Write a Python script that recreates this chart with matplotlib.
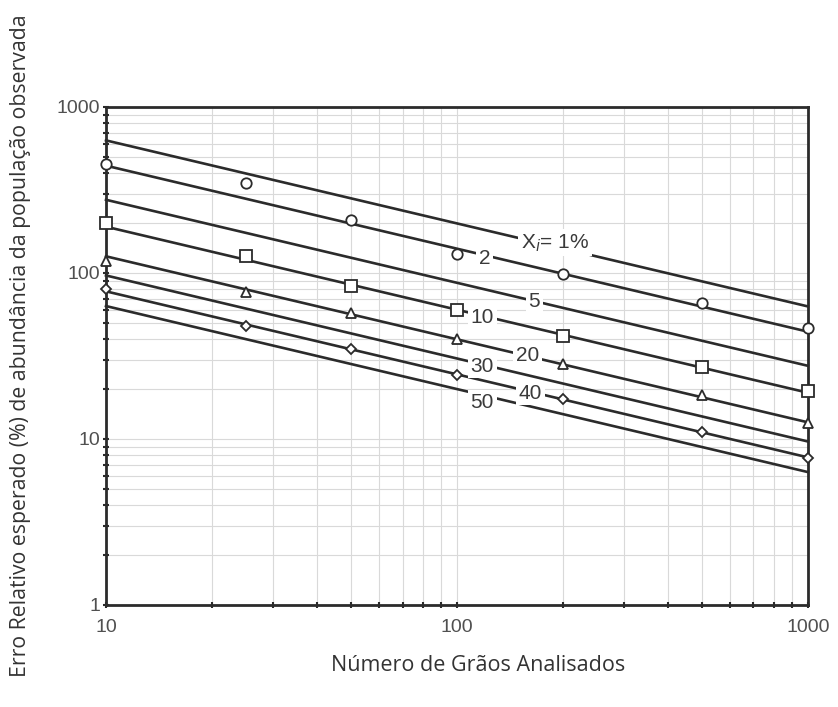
import matplotlib.pyplot as plt
from matplotlib.ticker import LogLocator, NullFormatter, FixedLocator, FixedFormatter

# lines for each abundance X_i (%): error at N=10 and N=1000 (straight in log-log)
xi_labels = ["X$_i$= 1%", "2", "5", "10", "20", "30", "40", "50"]
n_ends = [10, 1000]
err_at_10 = [629, 443, 276, 190, 126, 96.6, 77.5, 63.2]
err_at_1000 = [62.9, 44.3, 27.6, 19.0, 12.6, 9.66, 7.75, 6.32]

# label positions along the lines
label_x = [190, 120, 166, 118, 159, 118, 162, 118]
label_y = [152, 123, 67, 53.6, 32, 27.5, 18.9, 16.6]

# observed points
n_obs = [10, 25, 50, 100, 200, 500, 1000]
obs_2 = [454, 348, 209, 130, 98.6, 66, 46.6]
obs_10 = [200, 126, 83.6, 60, 41.7, 27.2, 19.5]
obs_20 = [118, 77, 57, 40, 28.2, 18.4, 12.5]
obs_40 = [80, 48, 35, 24.3, 17.4, 11, 7.7]

LINE = "#2b2b2b"

fig = plt.figure(figsize=(8.38, 7.07), dpi=100)
ax = fig.add_axes([0.1265, 0.1443, 0.8375, 0.7044])
ax.set_xscale("log")
ax.set_yscale("log")
ax.set_xlim(10, 1000)
ax.set_ylim(1, 1000)

ax.grid(True, which="both", color="#d9d9d9", linewidth=0.8)
ax.set_axisbelow(True)

for e0, e1 in zip(err_at_10, err_at_1000):
    ax.plot(n_ends, [e0, e1], color=LINE, linewidth=1.9, zorder=2, clip_on=False)

for lab, lx, ly in zip(xi_labels, label_x, label_y):
    ax.text(lx, ly, lab, fontsize=15, color="#3a3a3a", family="Liberation Sans",
            ha="center", va="center", zorder=3,
            bbox=dict(facecolor="white", edgecolor="none", pad=2))

mk = dict(color=LINE, markerfacecolor="white", linestyle="none", zorder=4,
          clip_on=False, markeredgewidth=1.3)
ax.plot(n_obs, obs_2, marker="o", markersize=7.5, **mk)
ax.plot(n_obs, obs_10, marker="s", markersize=9, **mk)
ax.plot(n_obs, obs_20, marker="^", markersize=7, **mk)
ax.plot(n_obs, obs_40, marker="D", markersize=5.5, **mk)

for s in ax.spines.values():
    s.set_linewidth(2)
    s.set_color("#2b2b2b")

ax.xaxis.set_major_locator(FixedLocator([10, 100, 1000]))
ax.xaxis.set_major_formatter(FixedFormatter(["10", "100", "1000"]))
ax.yaxis.set_major_locator(FixedLocator([1, 10, 100, 1000]))
ax.yaxis.set_major_formatter(FixedFormatter(["1", "10", "100", "1000"]))
ax.xaxis.set_minor_locator(LogLocator(base=10, subs=range(2, 10)))
ax.yaxis.set_minor_locator(LogLocator(base=10, subs=range(2, 10)))
ax.xaxis.set_minor_formatter(NullFormatter())
ax.yaxis.set_minor_formatter(NullFormatter())
ax.tick_params(which="both", direction="inout", length=4, width=1.5, color="#2b2b2b",
               labelsize=14, labelcolor="#505050")
ax.tick_params(axis="x", pad=8)
ax.tick_params(axis="y", pad=2)
for t in ax.get_xticklabels() + ax.get_yticklabels():
    t.set_family("Liberation Sans")

fig.text(0.570, 0.059, "Número de Grãos Analisados", fontsize=15.5, family="Open Sans",
         color="#333333", ha="center", va="center")
fig.text(0.024, 0.511, "Erro Relativo esperado (%) de abundância da população observada",
         rotation=90, ha="center", va="center", fontsize=15.3, family="Open Sans",
         color="#333333")

fig.savefig("out.png", dpi=100)
